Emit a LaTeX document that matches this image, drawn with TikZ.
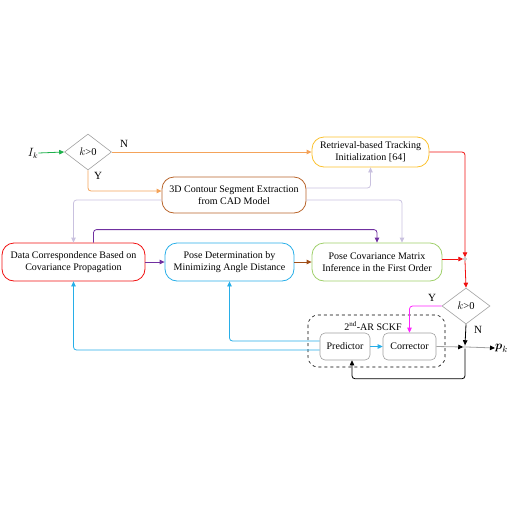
\documentclass[tikz,border=0pt]{standalone}
\usepackage{fontspec}
\usepackage{amsmath}
\setmainfont{Liberation Serif}
\usetikzlibrary{arrows.meta,shapes.geometric,calc}
\definecolor{cgreen}{HTML}{1DB04B}
\definecolor{corange}{HTML}{F4A35A}
\definecolor{cgold}{HTML}{FBC12E}
\definecolor{cbrown}{HTML}{B8642A}
\definecolor{clav}{HTML}{C9C1DF}
\definecolor{cred}{HTML}{F01010}
\definecolor{ccyan}{HTML}{27AEE8}
\definecolor{clime}{HTML}{9FCF6A}
\definecolor{cpurple}{HTML}{7030A0}
\definecolor{cbrarrow}{HTML}{A04E18}
\definecolor{cmag}{HTML}{FF22FF}
\definecolor{cgray}{HTML}{A0A0A0}
\tikzset{
  mainbox/.style={draw, line width=0.8pt, rounded corners=12pt, align=center, font=\fontsize{10}{12}\selectfont, inner sep=1pt},
  smallbox/.style={draw=cgray, line width=0.6pt, rounded corners=5pt, align=center, font=\fontsize{10}{12}\selectfont, minimum width=50pt, minimum height=27pt, inner sep=1pt},
  decision/.style={draw=cgray, line width=0.6pt, diamond, inner sep=0pt, minimum width=47pt, minimum height=36pt, font=\fontsize{10.5}{12}\selectfont},
  junc/.style={circle, draw=cgray, line width=0.5pt, inner sep=0pt, minimum size=3pt},
  conn/.style={line width=0.8pt, rounded corners=3pt, -{Triangle[length=5pt,width=4.5pt]}},
  lbl/.style={font=\fontsize{11}{13}\selectfont, inner sep=0pt}
}
\begin{document}
\begin{tikzpicture}[x=1pt,y=-1pt]
\useasboundingbox (0,0) rectangle (512,512);

% nodes
\node[lbl, font=\fontsize{12}{14}\selectfont] (Ik) at (33,153) {$I_k$};
\node[decision] (d1) at (88,152) {$k$>0};
\node[mainbox, draw=cgold, minimum width=117pt, minimum height=30pt] (ret) at (370.5,152) {Retrieval-based Tracking\\Initialization [64]};
\node[mainbox, draw=cbrown, minimum width=144pt, minimum height=36pt] (cad) at (234,195) {3D Contour Segment Extraction\\from CAD Model};
\node[mainbox, draw=cred, minimum width=143pt, minimum height=38pt] (data) at (73.5,262) {Data Correspondence Based on\\Covariance Propagation};
\node[mainbox, draw=ccyan, minimum width=129pt, minimum height=38pt] (pdet) at (229.5,262) {Pose Determination by\\Minimizing Angle Distance};
\node[mainbox, draw=clime, minimum width=130pt, minimum height=38pt] (pc) at (377,262) {Pose Covariance Matrix\\Inference in the First Order};
\node[junc] (j1) at (465,259) {};
\node[decision, minimum width=48pt] (d2) at (466,306) {$k$>0};
\draw[dashed, line width=0.6pt, rounded corners=10pt] (308,315) rectangle (445,367);
\node[font=\fontsize{10}{11}\selectfont, inner sep=0pt] (sckf) at (373,326) {2\textsuperscript{nd}-AR SCKF};
\node[smallbox] (pred) at (345,346.5) {Predictor};
\node[smallbox, minimum width=53pt] (corr) at (409.5,346.5) {Corrector};
\node[junc, draw=cgray!70] (j2) at (465,347) {};
\node[lbl, font=\fontsize{13}{15}\selectfont, anchor=west] (pk) at (495,348) {$\boldsymbol{p}_k$};

% labels
\node[lbl] (lN1) at (124,144) {N};
\node[lbl] (lY1) at (98,176) {Y};
\node[lbl] (lY2) at (432,298) {Y};
\node[lbl] (lN2) at (478,330) {N};

% connectors
\draw[conn, cgreen] (Ik.east) -- (d1.west);
\draw[conn, corange] (d1.east) -- (ret.west);
\draw[conn, corange] (d1.south) |- ([yshift=4pt]cad.west);
\draw[conn, clav] ([yshift=7pt]cad.east) -| (ret.south);
\draw[conn, clav] ([yshift=-5pt]cad.east) -| ([xshift=25pt]pc.north);
\draw[conn, clav] ([yshift=-5pt]cad.west) -| (data.north);
\draw[conn, cpurple] ([xshift=20pt]data.north) -- ++(0,-13) -| (pc.north);
\draw[conn, cpurple] (data.east) -- (pdet.west);
\draw[conn, cbrarrow] (pdet.east) -- (pc.west);
\draw[conn, cred] (ret.east) -| (j1.north);
\draw[conn, cred] (pc.east |- j1) -- (j1.west);
\draw[conn, cred] (j1.south) -- (d2.north);
\draw[conn, cmag] (d2.west) -| (corr.north);
\draw[conn, black] (d2.south) -- (j2.north);
\draw[conn, cgray, -{Triangle[length=5pt,width=4.5pt,color=black]}] (corr.east) -- (j2.west);
\draw[conn, cgray, -{Triangle[length=5pt,width=4.5pt,color=black]}] (j2.east) -- (pk.west);
\draw[conn, black] (j2.south) -- ++(0,30) -| ([xshift=7pt]pred.south);
\draw[conn, ccyan] (pred.east) -- (corr.west);
\draw[conn, ccyan] ([yshift=5.5pt]pred.west) -| (pdet.south);
\draw[conn, ccyan] ([yshift=-3.5pt]pred.west) -| (data.south);
\end{tikzpicture}
\end{document}
